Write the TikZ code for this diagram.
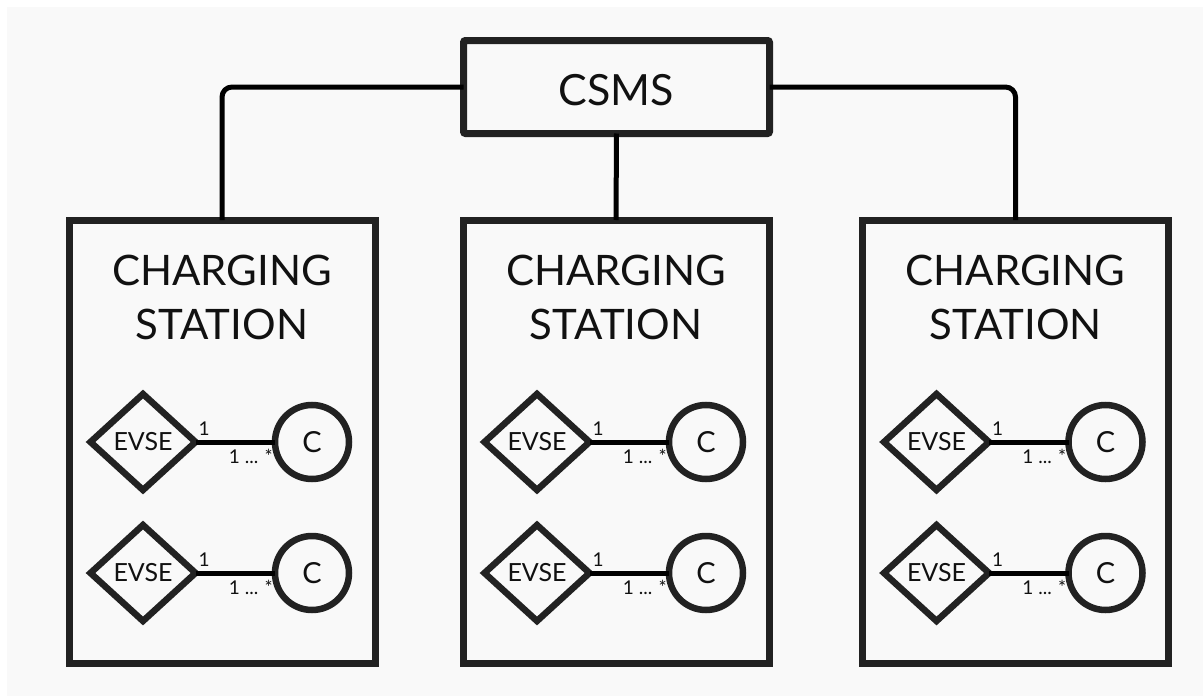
\documentclass[tikz,border=0pt]{standalone}
\usepackage{fontspec}
\setmainfont{Lato}
\usetikzlibrary{shapes.geometric,calc}
\definecolor{bgc}{HTML}{F9F9F9}
\definecolor{framec}{HTML}{222222}
\definecolor{inkc}{HTML}{111111}
\tikzset{
  framebox/.style={draw=framec, line width=7pt, rectangle, inner sep=0pt, outer sep=0pt},
  conn/.style={draw=black, line width=5pt, rounded corners=10pt},
  evse/.style={draw=framec, line width=6.5pt, diamond, inner sep=0pt, outer sep=0pt,
    minimum width=105pt, minimum height=96pt, text=inkc, font=\fontsize{25}{25}\selectfont},
  conr/.style={draw=framec, line width=6.5pt, circle, inner sep=0pt, outer sep=0pt,
    minimum size=74pt, text=inkc, font=\fontsize{29}{29}\selectfont},
  link/.style={draw=black, line width=5pt},
  mult/.style={text=inkc, inner sep=0pt, font=\fontsize{19}{19}\selectfont},
  title/.style={text=inkc, inner sep=0pt, anchor=base, font=\fontsize{42}{42}\selectfont}
}
\begin{document}
\begin{tikzpicture}[x=1pt,y=-1pt]
\useasboundingbox (0,0) rectangle (1203,696);
\fill[white] (0,0) rectangle (1203,696);
\fill[bgc] (7,7) rectangle (1203,696);

% central system
\node[framebox, rounded corners=2pt, minimum width=306pt, minimum height=93pt,
      text height=36pt, text depth=0pt, text=inkc, font=\fontsize{43}{43}\selectfont]
      (csms) at (616.5,87) {CSMS};

% charging stations
\foreach \i/\bx in {1/222, 2/616, 3/1015.5} {
  \node[framebox, minimum width=306pt, minimum height=443pt] (cs\i) at (\bx,441.5) {};
  \node[title] (cs\i t1) at (\bx,285) {CHARGING};
  \node[title] (cs\i t2) at (\bx,339) {STATION};
  \foreach \j/\ry in {1/442, 2/573} {
    \node[evse] (e\i\j) at (\bx-79,\ry) {EVSE};
    \node[conr] (c\i\j) at (\bx+90,\ry) {C};
    \draw[link] (e\i\j.east) -- (c\i\j.west);
    \node[mult, anchor=base west] (m\i\j a) at ($(e\i\j.east)+(3,-7)$) {1};
    \node[mult, anchor=base east] (m\i\j b) at ($(c\i\j.west)+(-2,21)$) {1 ... *};
  }
}

% connectors
\draw[conn] (csms.west) -| (cs1.north);
\draw[conn] (csms.east) -| (cs3.north);
\draw[conn] (csms.south) -- (cs2.north);
\end{tikzpicture}
\end{document}
